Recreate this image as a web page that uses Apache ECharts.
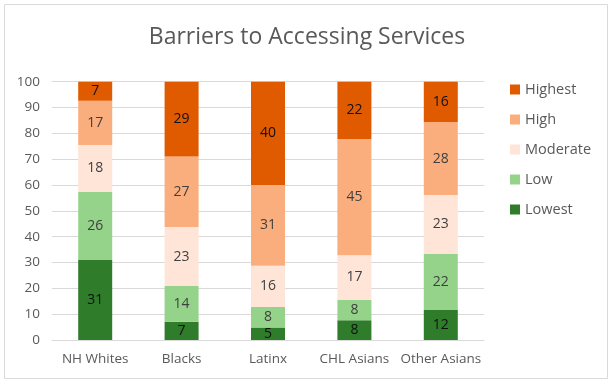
<!DOCTYPE html>
<html><head><meta charset="utf-8">
<script src="https://cdn.jsdelivr.net/npm/echarts@6/dist/echarts.min.js"></script>
<style>html,body{margin:0;padding:0;background:#fff}#c{width:614px;height:385px}</style>
</head><body><div id="c"></div>
<script>
var categories = ['NH Whites', 'Blacks', 'Latinx', 'CHL Asians', 'Other Asians'];
var lowest   = [31.0, 7.1, 4.8, 7.6, 11.6];
var low      = [26.4, 13.8, 8.0, 8.0, 21.8];
var moderate = [18.1, 22.8, 15.9, 17.2, 22.7];
var high     = [17.1, 27.3, 31.3, 45.0, 28.3];
var highest  = [7.4, 29.0, 40.0, 22.2, 15.6];
var yTicks = [0, 10, 20, 30, 40, 50, 60, 70, 80, 90, 100];

var font = 'Open Sans';
var chart = echarts.init(document.getElementById('c'));
function s(name, data, color, labelColor) {
  return {
    name: name, type: 'bar', stack: 'total', data: data, barWidth: 34,
    itemStyle: { color: color },
    label: { show: true, position: 'inside', color: labelColor, fontFamily: font, fontSize: 14,
      formatter: function (p) { return Math.round(p.value); } }
  };
}
chart.setOption({
  animation: false,
  title: { text: 'Barriers to Accessing Services', left: 'center', top: 21,
    textStyle: { fontFamily: font, fontWeight: 'normal', fontSize: 23, color: '#595959' } },
  graphic: [{ type: 'rect', shape: { x: 4.5, y: 4.5, width: 603, height: 374 },
    style: { fill: 'none', stroke: '#d9d9d9', lineWidth: 1 }, silent: true }],
  legend: {
    orient: 'vertical', left: 505, top: 76, itemWidth: 10, itemHeight: 10, itemGap: 13,
    icon: 'rect',
    data: ['Highest', 'High', 'Moderate', 'Low', 'Lowest'],
    textStyle: { fontFamily: font, fontSize: 14.5, color: '#595959', lineHeight: 17 }
  },
  grid: { left: 52, right: 130, top: 81.7, bottom: 45 },
  xAxis: { type: 'category', data: categories,
    axisLine: { lineStyle: { color: '#d9d9d9' } }, axisTick: { show: false },
    axisLabel: { interval: 0, fontFamily: font, fontSize: 13.5, color: '#595959', margin: 12 } },
  yAxis: { type: 'value', min: yTicks[0], max: yTicks[yTicks.length - 1], interval: 10,
    axisLine: { show: false }, axisTick: { show: false },
    splitLine: { lineStyle: { color: '#d9d9d9' } },
    axisLabel: { fontFamily: font, fontSize: 13.5, color: '#595959', margin: 12 } },
  series: [
    s('Lowest', lowest, '#2f7d2b', '#111'),
    s('Low', low, '#95d38a', '#404040'),
    s('Moderate', moderate, '#fee5d8', '#404040'),
    s('High', high, '#fbae7d', '#404040'),
    s('Highest', highest, '#e05a00', '#111')
  ]
});
</script></body></html>
